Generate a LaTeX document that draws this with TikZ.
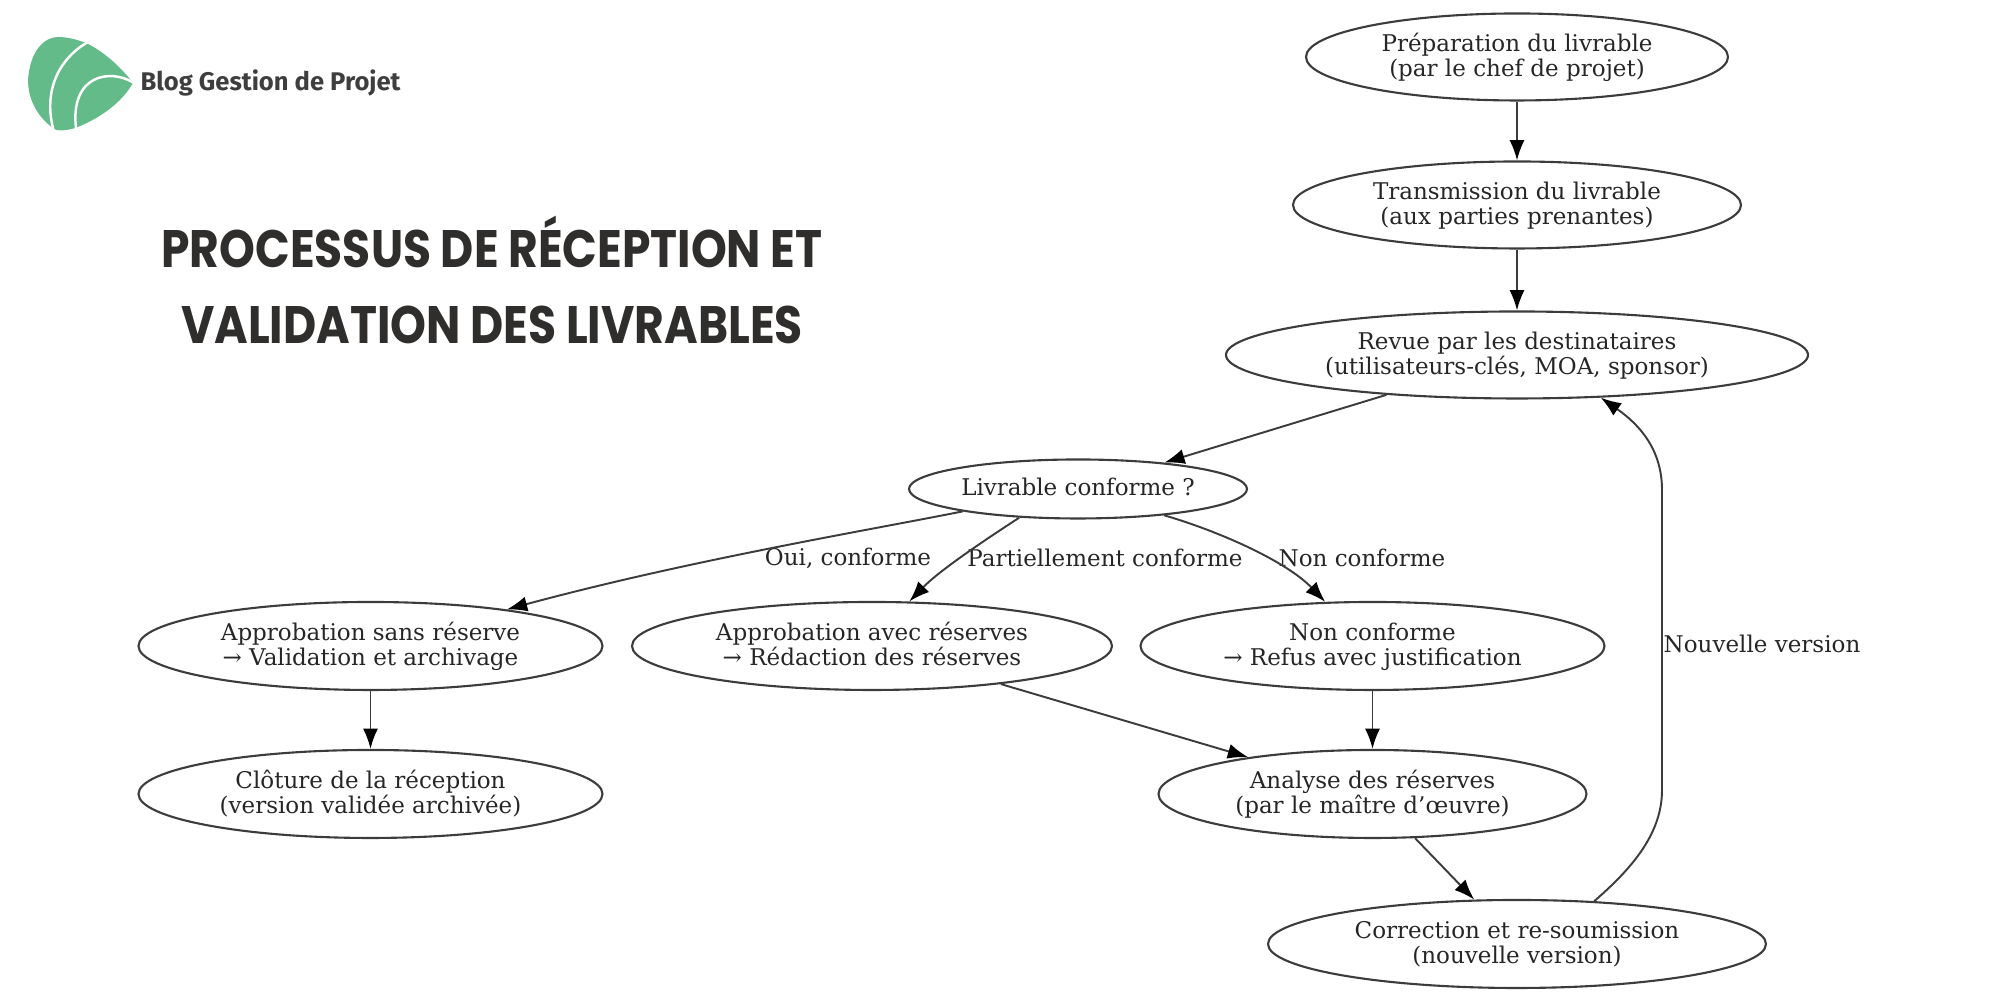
\documentclass[tikz,border=0pt]{standalone}
\usepackage{fontspec}
\setmainfont{DejaVu Serif}
\newfontfamily\logofont{Fira Sans}
\newfontfamily\titlefont{Poppins}
\usetikzlibrary{shapes,arrows.meta,positioning}
\definecolor{logogreen}{RGB}{100,187,138}
\definecolor{logotext}{RGB}{62,62,62}
\definecolor{titledark}{RGB}{47,46,44}
\definecolor{outline}{RGB}{60,60,60}
\tikzset{
  stagebox/.style={draw=outline, ellipse, line width=0.6pt, inner sep=0pt, align=center, text height=12.6pt, text depth=1.6pt, font=\fontsize{6.55}{7.1}\selectfont, text=black!85},
  flowedge/.style={-{Latex[length=5.8pt,width=4.3pt,black]}, line width=0.55pt, draw=outline},
  edgelabel/.style={font=\fontsize{6.55}{7.1}\selectfont, text=black!85, inner sep=0pt},
  titleline/.style={font=\titlefont\bfseries\fontsize{15}{17}\selectfont, text=titledark, inner sep=0pt},
}

\begin{document}
\begin{tikzpicture}
\useasboundingbox (0,0) rectangle (20,10);

% Logo
\fill[logogreen] (0.86,9.57) .. controls (1.03,9.49) and (1.21,9.33) .. (1.33,9.17)
  .. controls (1.22,8.98) and (1.02,8.83) .. (0.78,8.73)
  .. controls (0.7,8.7) and (0.62,8.69) .. (0.56,8.7)
  .. controls (0.4,8.8) and (0.28,8.98) .. (0.28,9.2)
  .. controls (0.3,9.5) and (0.45,9.63) .. (0.58,9.63)
  .. controls (0.68,9.63) and (0.78,9.6) .. (0.86,9.57) -- cycle;
\draw[white, line width=0.7pt] (0.88,9.58) .. controls (0.6,9.42) and (0.42,9.1) .. (0.54,8.68);
\draw[white, line width=0.7pt] (1.34,9.17) .. controls (1.1,9.32) and (0.7,9.25) .. (0.76,8.72);
\node[font=\logofont\bfseries\fontsize{7.27}{9}\selectfont, text=logotext, inner sep=0pt, anchor=west] (logoname) at (1.40,9.17) {Blog Gestion de Projet};

% Title
\node[titleline] (titleone) at (4.92,7.58) {\scalebox{0.865}[1]{PROCESSUS DE RÉCEPTION ET}};
\node[titleline] (titletwo) at (4.92,6.75) {\scalebox{0.866}[1]{VALIDATION DES LIVRABLES}};

% Right column
\node[stagebox, minimum width=4.22cm, minimum height=0.87cm] (prep) at (15.17,9.43) {Préparation du livrable\\(par le chef de projet)};
\node[stagebox, minimum width=4.48cm, minimum height=0.87cm] (trans) at (15.17,7.95) {Transmission du livrable\\(aux parties prenantes)};
\node[stagebox, minimum width=5.82cm, minimum height=0.87cm] (revue) at (15.17,6.45) {Revue par les destinataires\\(utilisateurs-clés, MOA, sponsor)};

% Decision
\node[stagebox, text height=5.2pt, minimum width=3.38cm, minimum height=0.59cm] (conforme) at (10.78,5.11) {Livrable conforme ?};

% Three outcomes
\node[stagebox, minimum width=4.64cm, minimum height=0.88cm] (sansres) at (3.705,3.54) {Approbation sans réserve\\→ Validation et archivage};
\node[stagebox, minimum width=4.80cm, minimum height=0.88cm] (avecres) at (8.72,3.54) {Approbation avec réserves\\→ Rédaction des réserves};
\node[stagebox, minimum width=4.64cm, minimum height=0.88cm] (refus) at (13.725,3.54) {Non conforme\\→ Refus avec justification};

% Lower row
\node[stagebox, minimum width=4.64cm, minimum height=0.88cm] (cloture) at (3.705,2.06) {Clôture de la réception\\(version validée archivée)};
\node[stagebox, minimum width=4.28cm, minimum height=0.88cm] (analyse) at (13.725,2.06) {Analyse des réserves\\(par le maître d’œuvre)};
\node[stagebox, minimum width=4.98cm, minimum height=0.88cm] (correction) at (15.17,0.56) {Correction et re-soumission\\(nouvelle version)};

% Labels
\node[edgelabel] (ouilabel) at (8.48,4.42) {Oui, conforme};
\node[edgelabel] (partlabel) at (11.05,4.42) {Partiellement conforme};
\node[edgelabel] (nonlabel) at (13.62,4.42) {Non conforme};
\node[edgelabel] (versionlabel) at (17.62,3.56) {Nouvelle version};

% Straight arrows
\draw[flowedge] (prep) -- (trans);
\draw[flowedge] (trans) -- (revue);
\draw[flowedge] (revue) -- (conforme);
\draw[flowedge] (sansres) -- (cloture);
\draw[flowedge] (avecres) -- (analyse);
\draw[flowedge] (refus) -- (analyse);
\draw[flowedge] (analyse) -- (correction);

% Curved arrows
\draw[flowedge] (conforme.191) .. controls (8.7,4.7) and (6.9,4.4) .. (sansres.15);
\draw[flowedge] (conforme.206) .. controls (9.85,4.6) and (9.4,4.3) .. (avecres.50);
\draw[flowedge] (conforme.343) .. controls (12.15,4.7) and (12.85,4.4) .. (refus.137);
\draw[flowedge] (correction.29) .. controls (16.30,1.30) and (16.62,1.65) .. (16.62,2.10)
  -- (16.62,5.10) .. controls (16.62,5.50) and (16.40,5.75) .. (revue.-27);
\end{tikzpicture}
\end{document}
